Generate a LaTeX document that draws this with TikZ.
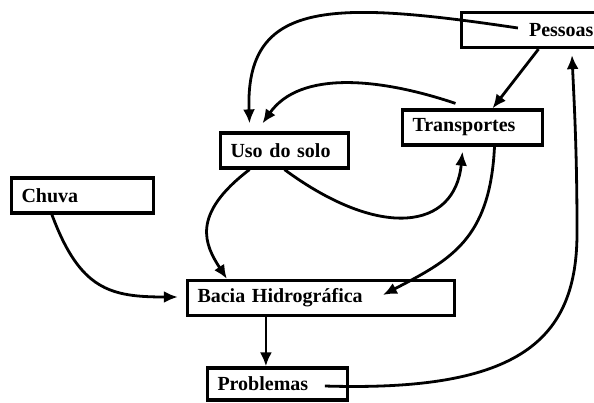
\documentclass[tikz,border=0pt]{standalone}
\usepackage{fontspec}
\setmainfont{Liberation Serif}
\usetikzlibrary{arrows.meta,calc}
\begin{document}
\begin{tikzpicture}[x=0.5pt,y=-0.5pt,
  caixa/.style={draw, line width=1.6pt, inner xsep=5pt, inner ysep=0pt, minimum height=17.5pt, align=left, font=\bfseries},
  seta/.style={line width=1.4pt, -{Latex[length=7pt,width=6pt]}}]
\useasboundingbox (0,0) rectangle (594,402);
\node[caixa, text width=65pt, align=right, inner xsep=1pt] (pessoas) at (528.5,30) {Pessoas};
\node[caixa, text width=60pt] (transp) at (472.5,127.5) {Transportes};
\node[caixa, text width=54pt] (uso) at (284.5,150.5) {Uso do solo};
\node[caixa, text width=61pt] (chuva) at (82.5,195.5) {Chuva};
\node[caixa, text width=123.5pt] (bacia) at (321,298) {Bacia Hidrográfica};
\node[caixa, text width=60pt, minimum height=16pt] (probl) at (277.5,384) {Problemas};
\draw[seta] ($(pessoas.west)+(58,-2)$) .. controls (330,0) and (245,0) .. ($(uso.north)+(-35,-8)$);
\draw[seta] ($(transp.north)+(-17,-5)$) .. controls (380,78) and (300,70) .. ($(uso.north)+(-22,-8)$);
\draw[seta] ($(pessoas.south)+(10,0)$) -- ($(transp.north)+(20,0)$);
\draw[seta] (uso.south) .. controls (380,240) and (455,230) .. ($(transp.south)+(-10,5)$);
\draw[seta] ($(uso.south)+(-35,0)$) .. controls (190,215) and (205,245) .. ($(bacia.north west)+(41,0)$);
\draw[seta] ($(transp.south)+(22,0)$) .. controls (490,240) and (450,260) .. ($(bacia.west)+(197,-3)$);
\draw[seta] ($(chuva.south west)+(42,0)$) .. controls (80,290) and (110,297) .. ($(bacia.west)+(-8,-1)$);
\draw[seta] ($(bacia.south west)+(80,0)$) -- ($(probl.north west)+(60,0)$);
\draw[seta] ($(probl.west)+(119,2)$) .. controls (520,392) and (578,340) .. (577,230)
  .. controls (577,150) and (574,100) .. ($(pessoas.south)+(43.5,6)$);
\end{tikzpicture}
\end{document}
